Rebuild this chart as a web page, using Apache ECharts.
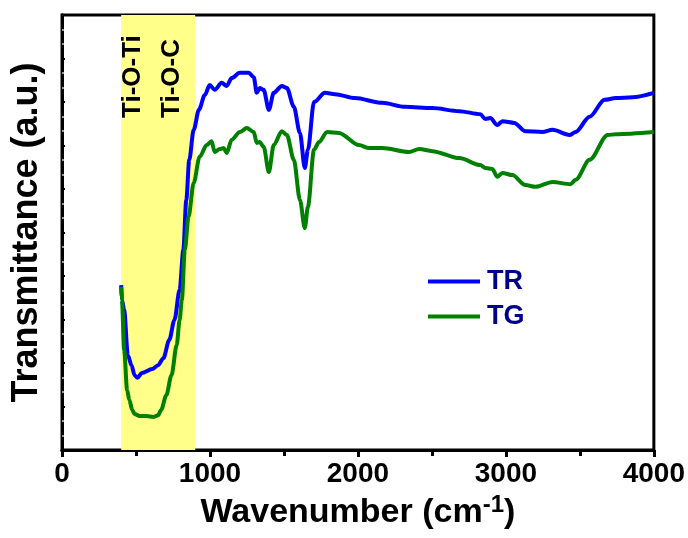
<!DOCTYPE html>
<html><head><meta charset="utf-8">
<script src="https://cdn.jsdelivr.net/npm/echarts@6/dist/echarts.min.js"></script>
<style>html,body{margin:0;padding:0;background:#fff}#c{width:688px;height:538px}</style>
</head><body><div id="c"></div>
<script>
const trWavenumber = [400,405,420,445,470,490,510,540,610,650,685,725,760,795,820,840,860,890,925,965,998,1032,1079,1113,1147,1201,1262,1296,1316,1336,1363,1398,1431,1486,1520,1567,1608,1641,1662,1703,1777,1845,1980,2163,2319,2502,2685,2827,2861,2895,2942,2976,3057,3132,3247,3315,3430,3471,3566,3667,3742,3857,4000];
const trValues = [37.9,34.5,32.2,21.8,19.5,17.2,16.6,17.7,18.6,19.5,21.1,25.3,29.9,36.8,46.0,57.5,66.7,73.6,78.2,81.6,83.9,82.8,84.4,83.7,85.5,86.7,86.7,85.7,82.1,83.2,82.8,78.2,82.1,83.7,83.2,78.9,72.9,64.8,69.0,80.0,82.1,81.8,80.9,79.8,78.9,78.6,77.9,77.2,76.1,76.3,74.7,75.6,75.2,73.3,73.1,73.6,72.4,73.1,76.6,80.5,80.9,81.1,82.1];
const tgWavenumber = [400,405,420,440,455,475,490,525,570,620,650,670,705,740,775,795,810,830,855,890,930,978,1011,1032,1066,1093,1113,1147,1201,1249,1296,1316,1336,1363,1398,1431,1486,1520,1567,1608,1641,1662,1703,1737,1791,1872,2007,2075,2163,2346,2414,2502,2685,2827,2861,2908,2942,2976,3044,3132,3200,3315,3437,3471,3566,3688,3742,4000];
const tgValues = [37.5,34.5,23.0,13.8,11.5,9.2,8.3,7.8,7.8,7.6,8.0,9.2,12.6,17.2,24.1,29.9,34.5,46.0,53.6,61.4,67.4,70.1,71.0,68.5,69.2,69.4,68.3,71.3,73.1,74.0,73.1,70.6,70.8,69.7,63.9,70.1,73.3,72.4,66.7,57.5,51.0,55.9,69.0,70.8,73.1,72.9,70.1,69.4,69.4,68.5,69.2,68.7,67.1,65.5,64.8,64.6,62.8,63.7,63.2,60.9,60.5,61.6,61.1,62.1,66.7,72.4,72.6,73.1];
const seriesNames = ['TR','TG'];
const bandRange = [400, 900];
const bandLabels = ['Ti-O-Ti','Ti-O-C'];
const xTicks = [0,1000,2000,3000,4000];

const zip = (a,b) => a.map((v,i)=>[v,b[i]]);
const chart = echarts.init(document.getElementById('c'));
const F = 'Liberation Sans, Arial, sans-serif';
const FN = '"Liberation Sans Narrow", "Arial Narrow", Liberation Sans, Arial, sans-serif';
chart.setOption({
  animation:false,
  grid:{left:62,right:34,top:15,bottom:88,show:true,borderColor:'#000',borderWidth:3,backgroundColor:'transparent'},
  xAxis:[{
    type:'value',min:xTicks[0],max:xTicks[xTicks.length-1],interval:1000,
    axisLine:{show:true,onZero:false,lineStyle:{color:'#000',width:3}},
    axisTick:{show:true,length:7,lineStyle:{color:'#000',width:3}},
    minorTick:{show:true,splitNumber:2,length:6,lineStyle:{color:'#000',width:3}},
    splitLine:{show:false},
    axisLabel:{color:'#000',fontFamily:FN,fontWeight:'bold',fontSize:28,margin:10,formatter:v=>String(v)},
    name:'Wavenumber (cm{sup|-1})',nameLocation:'middle',nameGap:42,
    nameTextStyle:{color:'#000',fontFamily:F,fontWeight:'bold',fontSize:34,
      rich:{sup:{fontFamily:F,fontWeight:'bold',fontSize:24,verticalAlign:'top',padding:[0,0,16,0],color:'#000'}}}
  },{
    type:'value',position:'top',min:0,max:4000,
    axisLine:{show:true,lineStyle:{color:'#000',width:3}},
    axisTick:{show:false},axisLabel:{show:false},splitLine:{show:false}
  }],
  yAxis:[{
    type:'value',min:0,max:100,interval:10,
    axisLine:{show:true,lineStyle:{color:'#000',width:3}},
    axisTick:{show:true,inside:true,length:3,lineStyle:{color:'#777',width:2}},
    minorTick:{show:true,splitNumber:3,length:2,lineStyle:{color:'#999',width:2}},
    axisLabel:{show:false},splitLine:{show:false},
    name:'Transmittance (a.u.)',nameLocation:'middle',nameGap:17,
    nameTextStyle:{color:'#000',fontFamily:F,fontWeight:'bold',fontSize:36}
  },{
    type:'value',min:0,max:100,interval:10,position:'right',
    axisLine:{show:true,lineStyle:{color:'#000',width:3}},
    axisTick:{show:true,length:3,lineStyle:{color:'#000',width:2}},
    axisLabel:{show:false},splitLine:{show:false}
  }],
  legend:{
    orient:'vertical',left:428,top:268,padding:0,itemWidth:52,itemHeight:14,itemGap:8,
    icon:'path://M0,5.5 L52,5.5 L52,9.5 L0,9.5 Z',
    textStyle:{color:'#00008B',fontFamily:F,fontWeight:'bold',fontSize:27,padding:[0,0,0,2]},
    data:seriesNames
  },
  series:[
    {name:seriesNames[0],type:'line',data:zip(trWavenumber,trValues),showSymbol:false,smooth:0.3,smoothMonotone:'x',
     lineStyle:{color:'#0000FF',width:4},itemStyle:{color:'#0000FF'},z:3,
     markArea:{silent:true,itemStyle:{color:'#FFFF8A'},data:[[{xAxis:bandRange[0]},{xAxis:bandRange[1]}]]}},
    {name:seriesNames[1],type:'line',data:zip(tgWavenumber,tgValues),showSymbol:false,smooth:0.3,smoothMonotone:'x',
     lineStyle:{color:'#008000',width:4},itemStyle:{color:'#008000'},z:3},
    {type:'line',xAxisIndex:1,yAxisIndex:1,data:[],silent:true}
  ],
  graphic:[
    {type:'text',z:100,x:120,y:118,rotation:Math.PI/2,style:{text:bandLabels[0],fill:'#000',font:'bold 26px '+F,verticalAlign:'top'}},
    {type:'text',z:100,x:159,y:118,rotation:Math.PI/2,style:{text:bandLabels[1],fill:'#000',font:'bold 26px '+F,verticalAlign:'top'}}
  ]
});
</script></body></html>
